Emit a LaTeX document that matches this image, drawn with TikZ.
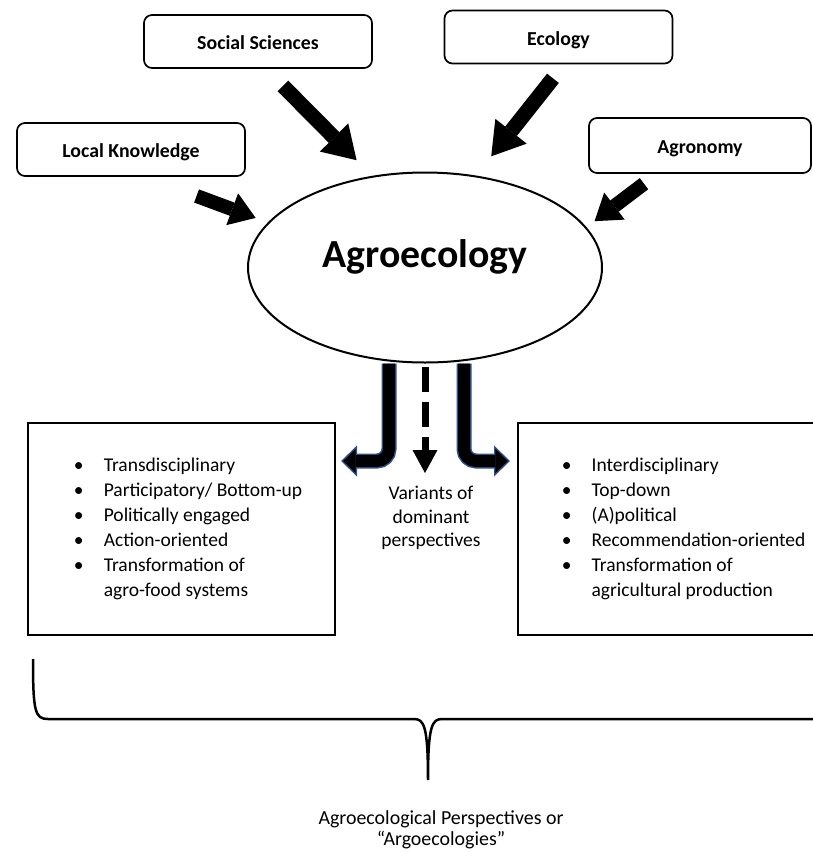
\documentclass[tikz,border=0pt]{standalone}
\usepackage{fontspec}
\setmainfont{Carlito}
\usepackage{tikz}
\usetikzlibrary{arrows.meta,positioning,calc,shapes.geometric}
\definecolor{outblue}{HTML}{2F528F}
\newcommand{\itm}{\makebox[10pt]{\textbullet}}
\tikzset{
  src/.style={draw, rounded corners=8pt, line width=1.7pt, minimum width=228pt, minimum height=53pt, text height=16pt, text depth=0pt, font=\fontsize{19.8}{23}\selectfont\bfseries},
  hub/.style={draw, ellipse, line width=2pt, minimum width=354pt, minimum height=190pt, inner sep=0pt, text height=12pt, text depth=12pt, font=\fontsize{39.8}{44}\selectfont\bfseries},
  lst/.style={draw, line width=2pt, minimum width=307pt, minimum height=212pt, inner sep=0pt, font=\fontsize{19.5}{25}\selectfont},
  txt/.style={align=center, inner sep=0pt},
  fat/.style={line width=15pt, -{Triangle[width=40pt,length=32pt,line width=0pt]}},
  fats/.style={line width=14pt, -{Triangle[width=34pt,length=25pt,line width=0pt]}},
  jback/.style={line width=15pt, draw=outblue, rounded corners=12pt, -{Triangle[width=31pt,length=16pt,line width=0pt]}},
  jfront/.style={line width=12pt, draw=black, rounded corners=12pt, shorten >=2.2pt, -{Triangle[width=24.5pt,length=12.5pt,line width=0pt]}},
  dsh/.style={line width=7pt, dash pattern=on 25pt off 10pt, dash phase=-3pt, -{Triangle[width=25pt,length=23pt,line width=0pt]}},
  brace/.style={line width=2.5pt},
}
\begin{document}
\begin{tikzpicture}[x=1pt, y=-1pt]
\useasboundingbox (0,0) rectangle (812,852);
% sources
\node[src] (social) at (258,41.5) {Social Sciences};
\node[src] (ecology) at (558.5,37) {Ecology};
\node[src] (local) at (131,149.5) {Local Knowledge};
\node[src, minimum width=222pt, minimum height=55pt] (agronomy) at (700,145.5) {Agronomy};
\node[hub] (agro) at (425,267.5) {Agroecology};
% the two perspectives
\node[lst] (trans) at (181.5,529) {\hspace*{13pt}\raisebox{-3pt}{\begin{tabular}{@{}l@{\hspace{20pt}}l@{}}
\itm & Transdisciplinary\\
\itm & Participatory/ Bottom-up\\
\itm & Politically engaged\\
\itm & Action-oriented\\
\itm & Transformation of\\
 & agro-food systems
\end{tabular}}};
\node[lst, minimum width=312pt] (inter) at (674,529) {\hspace*{19pt}\raisebox{-3pt}{\begin{tabular}{@{}l@{\hspace{20pt}}l@{}}
\itm & Interdisciplinary\\
\itm & Top-down\\
\itm & (A)political\\
\itm & Recommendation-oriented\\
\itm & Transformation of\\
 & agricultural production
\end{tabular}}};
\node[txt, font=\fontsize{19.5}{23.5}\selectfont] (variants) at (431,518) {Variants of\\dominant\\perspectives};
\coordinate (ltip) at (341,461);
\coordinate (rtip) at (510,461);
\coordinate (dtip) at (425,473);
% inputs
\draw[fat, shorten <=24pt, shorten >=22pt] ([xshift=8pt]social.south) -- (agro.120);
\draw[fat, shorten <=17.8pt, shorten >=24.5pt] ([xshift=5.5pt]ecology.south) -- (agro.61);
\draw[fats, shorten <=55pt, shorten >=13pt] ([xshift=14pt]local.south) -- (agro.164);
\draw[fats, shorten <=16.3pt, shorten >=10pt] ([xshift=-43pt]agronomy.south) -- (agro.14);
% outputs
\draw[jback] ([xshift=-36pt]agro.south) |- (ltip);
\draw[jfront] ([xshift=-36pt]agro.south) |- (ltip);
\draw[jback] ([xshift=39pt]agro.south) |- (rtip);
\draw[jfront] ([xshift=39pt]agro.south) |- (rtip);
\draw[dsh] (agro.south) -- (dtip);
% brace
\draw[brace] (33,659) .. controls (33,712) and (35,719) .. (48,719) -- (414,719)
  .. controls (424,719) and (428,726) .. (428,780)
  .. controls (428,726) and (432,719) .. (442,719) -- (830,719);
\node[txt, font=\fontsize{19.9}{21}\selectfont] (persp) at (441,830) {Agroecological Perspectives or\\“Argoecologies”};
\end{tikzpicture}
\end{document}
